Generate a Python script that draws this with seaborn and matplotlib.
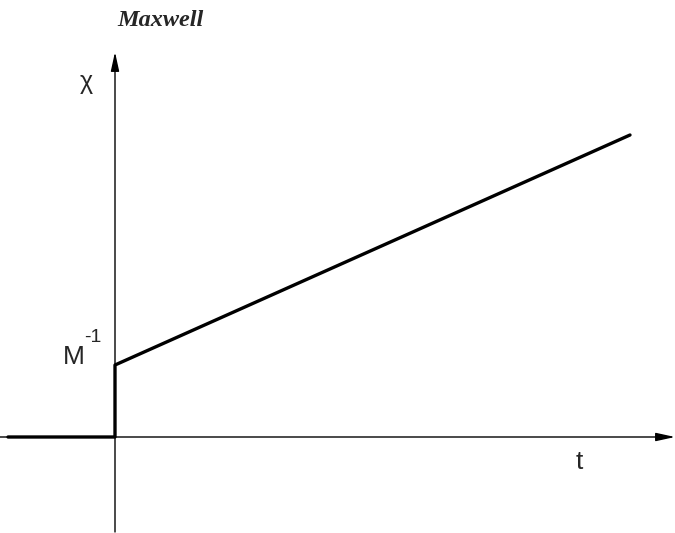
import numpy as np
import pandas as pd
import seaborn as sns
import matplotlib.pyplot as plt

# response of a Maxwell body: step then linear creep
t = [-1.07, 0.0, 0.0, 5.15]
chi = [0.0, 0.0, 0.72, 3.02]
df = pd.DataFrame({'t': t, 'chi': chi})

sns.set_style('white')
plt.rcParams['font.family'] = ['Liberation Sans', 'DejaVu Sans']

fig = plt.figure(figsize=(6.75, 5.33), dpi=100)
ax = fig.add_axes([0, 0, 1, 1])
ax.set_xlim(-1.15, 5.60)
ax.set_ylim(-0.96, 4.37)
ax.axis('off')

arrow = dict(arrowstyle='-|>,head_length=0.96,head_width=0.21', color='black',
             lw=1.0, mutation_scale=12, shrinkA=0, shrinkB=0)
ax.annotate('', xy=(5.60, 0), xytext=(-1.15, 0), arrowprops=arrow)
ax.annotate('', xy=(0, 3.85), xytext=(0, -0.95), arrowprops=arrow)

sns.lineplot(data=df, x='t', y='chi', sort=False, estimator=None,
             color='black', lw=2.4, ax=ax, zorder=3)
ax.set_xlabel('')
ax.set_ylabel('')

ax.text(0.45, 4.17, 'Maxwell', ha='center', va='center', fontsize=17.5,
        family='Liberation Serif', fontweight='bold', style='italic')
ax.text(-0.285, 3.55, 'χ', ha='center', va='center', fontsize=18)
ax.text(-0.41, 0.795, 'M', ha='center', va='center', fontsize=19)
ax.text(-0.22, 0.995, '-1', ha='center', va='center', fontsize=14)
ax.text(4.645, -0.25, 't', ha='center', va='center', fontsize=19)

fig.savefig('out.png', dpi=100)
